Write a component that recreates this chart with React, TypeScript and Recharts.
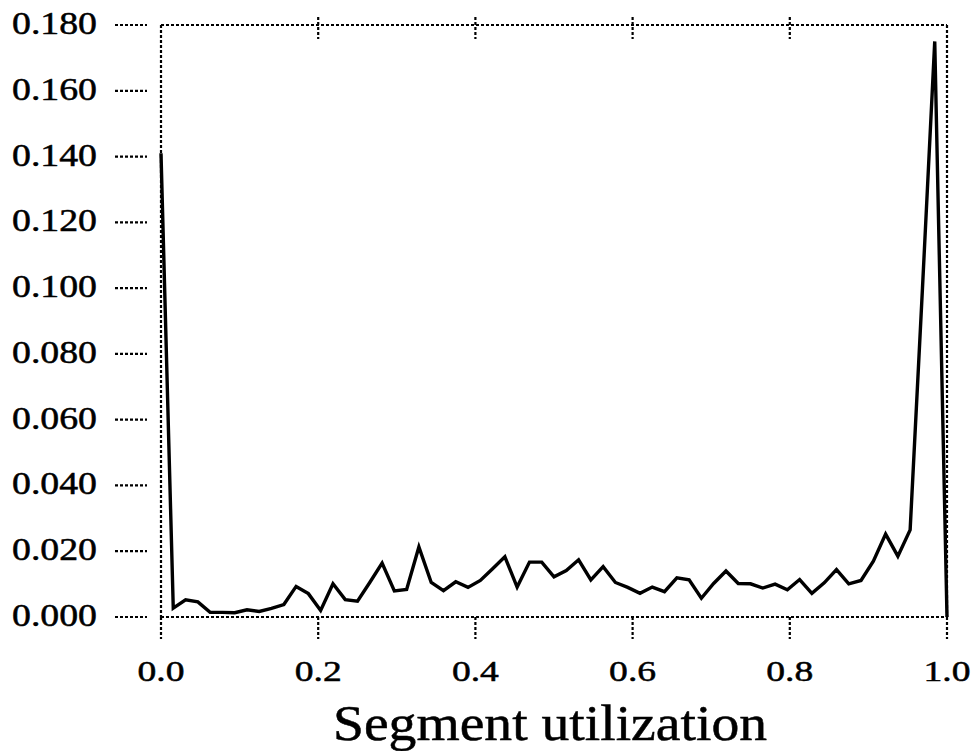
import React from 'react';
import { LineChart, Line, XAxis, YAxis } from 'recharts';

// bin positions (fraction of segment used)
const utilization = [
  0, 0.0156, 0.0313, 0.0469, 0.0625, 0.0781, 0.0938, 0.1094, 0.125, 0.1406,
  0.1563, 0.1719, 0.1875, 0.2031, 0.2188, 0.2344, 0.25, 0.2656, 0.2813, 0.2969,
  0.3125, 0.3281, 0.3438, 0.3594, 0.375, 0.3906, 0.4063, 0.4219, 0.4375, 0.4531,
  0.4688, 0.4844, 0.5, 0.5156, 0.5313, 0.5469, 0.5625, 0.5781, 0.5938, 0.6094,
  0.625, 0.6406, 0.6563, 0.6719, 0.6875, 0.7031, 0.7188, 0.7344, 0.75, 0.7656,
  0.7813, 0.7969, 0.8125, 0.8281, 0.8438, 0.8594, 0.875, 0.8906, 0.9063, 0.9219,
  0.9375, 0.9531, 0.9688, 0.9844, 1.0,
];

// fraction of segments in each bin
const fraction = [
  0.141, 0.0027, 0.0052, 0.0046, 0.0014, 0.0014, 0.0013, 0.0022, 0.0017, 0.0026,
  0.0038, 0.0093, 0.0071, 0.002, 0.0101, 0.0053, 0.0048, 0.0105, 0.0164, 0.0079,
  0.0084, 0.0213, 0.0105, 0.008, 0.0107, 0.009, 0.0111, 0.0147, 0.0183, 0.0091,
  0.0167, 0.0167, 0.0122, 0.0141, 0.0174, 0.0113, 0.0153, 0.0105, 0.009, 0.0072,
  0.0091, 0.0077, 0.0119, 0.0113, 0.0057, 0.0102, 0.014, 0.0102, 0.0101, 0.0088,
  0.01, 0.0083, 0.0114, 0.0072, 0.0104, 0.0144, 0.0101, 0.0111, 0.017, 0.0252,
  0.0185, 0.0265, 0.1, 0.175, 0,
];

const xTicks = [0, 0.2, 0.4, 0.6, 0.8, 1.0];
const topTicks = [0.2, 0.4, 0.6, 0.8];
const yTicks = [0, 0.02, 0.04, 0.06, 0.08, 0.1, 0.12, 0.14, 0.16, 0.18];

const data = utilization.map((u, i) => ({ u, f: fraction[i] }));

const FONT = '"Liberation Serif", "Times New Roman", serif';
const dotted = { stroke: '#000', strokeWidth: 2.2, strokeDasharray: '3 2' };
// scanned print looks a little heavier than a plain font
const ink = { fill: '#000', stroke: '#000', strokeWidth: 0.5 };

const LeftTick = (props: any) => {
  const { x, y, payload } = props;
  return (
    <g>
      <line x1={x - 46} x2={x - 14} y1={y} y2={y} {...dotted} />
      <text x={x - 149} y={y + 9} fontSize={31} fontFamily={FONT} {...ink}
        textLength={85} lengthAdjust="spacingAndGlyphs">
        {payload.value.toFixed(3)}
      </text>
    </g>
  );
};

const RightTick = (props: any) => {
  const { x, y } = props;
  return <line x1={x + 4} x2={x + 40} y1={y} y2={y} {...dotted} />;
};

const BottomTick = (props: any) => {
  const { x, y, payload } = props;
  return (
    <g>
      <line x1={x} x2={x} y1={y} y2={y + 22} {...dotted} />
      <text x={x - 23.5} y={y + 64} fontSize={30} fontFamily={FONT} {...ink}
        textLength={47} lengthAdjust="spacingAndGlyphs">
        {payload.value.toFixed(1)}
      </text>
    </g>
  );
};

const TopTick = (props: any) => {
  const { x, y } = props;
  return <line x1={x} x2={x} y1={y - 8} y2={y + 14} {...dotted} />;
};

const renderTitle = (props: any) => {
  const vb = props.viewBox || {};
  const cx = vb.x + vb.width / 2 - 4;
  return (
    <text x={cx - 217} y={vb.y + 123} fontSize={50} fontFamily={FONT} {...ink}
      textLength={434} lengthAdjust="spacingAndGlyphs">
      Segment utilization
    </text>
  );
};

export default function App() {
  return (
    <div style={{ position: 'absolute', left: 0, top: 0, width: 980, height: 751, background: '#fff' }}>
      <LineChart width={980} height={751} data={data} margin={{ top: 0, right: 0, bottom: 0, left: 0 }}>
        <XAxis xAxisId="b" dataKey="u" type="number" domain={[0, 1]} ticks={xTicks} interval={0}
          height={134} axisLine={dotted} tickLine={false} tickSize={0} tickMargin={0}
          tick={BottomTick} label={renderTitle} />
        <XAxis xAxisId="t" orientation="top" dataKey="u" type="number" domain={[0, 1]} ticks={topTicks}
          interval={0} height={25} axisLine={dotted} tickLine={false} tickSize={0} tickMargin={0}
          tick={TopTick} />
        <YAxis yAxisId="l" type="number" domain={[0, 0.18]} ticks={yTicks} interval={0} width={161}
          axisLine={dotted} tickLine={false} tickSize={0} tickMargin={0} tick={LeftTick} />
        <YAxis yAxisId="r" orientation="right" type="number" domain={[0, 0.18]} ticks={yTicks}
          interval={0} width={33} axisLine={dotted} tickLine={false} tickSize={0} tickMargin={0}
          tick={RightTick} />
        <Line xAxisId="b" yAxisId="l" type="linear" dataKey="f" stroke="#000" strokeWidth={3.4}
          dot={false} isAnimationActive={false} />
      </LineChart>
    </div>
  );
}
